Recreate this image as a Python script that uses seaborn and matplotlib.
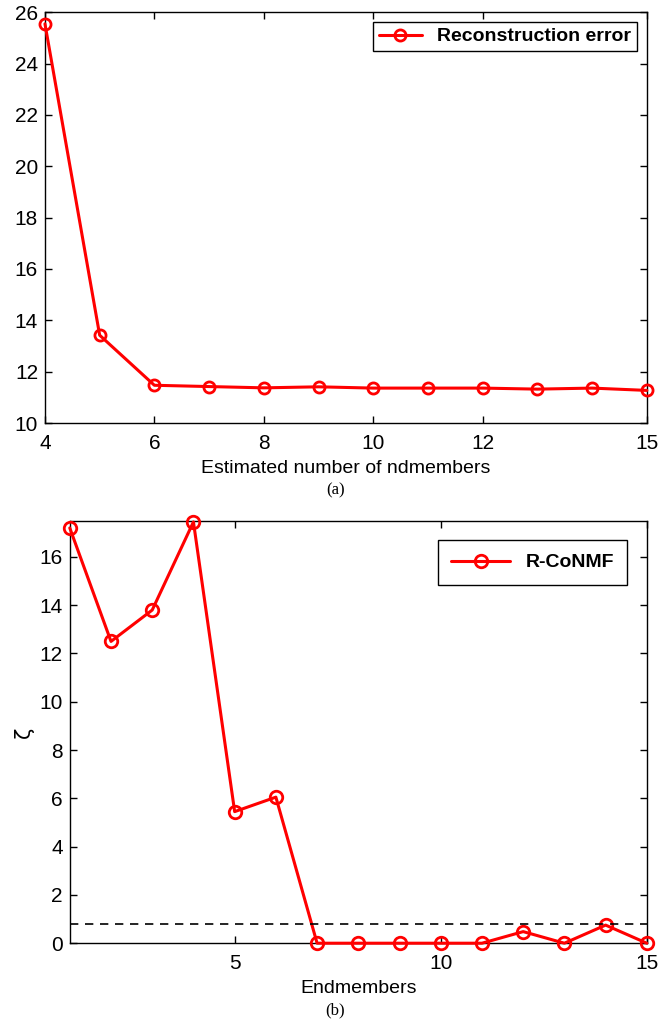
import matplotlib
matplotlib.use("Agg")
import matplotlib.pyplot as plt
import seaborn as sns
import pandas as pd
import numpy as np

# Data
top_x = [4, 5, 6, 7, 8, 9, 10, 11, 12, 13, 14, 15]
top_err = [25.55, 13.42, 11.47, 11.42, 11.37, 11.41, 11.36, 11.36, 11.36, 11.32, 11.36, 11.27]
top_xticks = [4, 6, 8, 10, 12, 15]
top_yticks = [10, 12, 14, 16, 18, 20, 22, 24, 26]

bot_x = list(range(1, 16))
bot_zeta = [17.2, 12.5, 13.8, 17.45, 5.45, 6.05, 0, 0, 0, 0, 0, 0.48, 0, 0.75, 0]
bot_xticks = [5, 10, 15]
bot_yticks = [0, 2, 4, 6, 8, 10, 12, 14, 16]
threshold = 0.8

sns.set_style("ticks")
plt.rcParams['font.family'] = ['Liberation Sans', 'DejaVu Sans']
plt.rcParams['xtick.direction'] = 'in'
plt.rcParams['ytick.direction'] = 'in'
plt.rcParams['text.color'] = 'black'
plt.rcParams['axes.labelcolor'] = 'black'
plt.rcParams['xtick.color'] = 'black'
plt.rcParams['ytick.color'] = 'black'
plt.rcParams['axes.edgecolor'] = 'black'

fig = plt.figure(figsize=(6.71, 10.23), dpi=100)
ax1 = fig.add_axes([0.067, 0.5865, 0.897, 0.4015])
ax2 = fig.add_axes([0.104, 0.078, 0.86, 0.413])

df1 = pd.DataFrame({"x": top_x, "y": top_err})
sns.lineplot(data=df1, x="x", y="y", ax=ax1, color="red", lw=2.2, marker="o",
             markersize=8, markerfacecolor="none", markeredgecolor="red",
             markeredgewidth=2, label="Reconstruction error", clip_on=False)
ax1.set_xlim(4, 15)
ax1.set_ylim(10, 26)
ax1.set_xticks(top_xticks)
ax1.set_yticks(top_yticks)
ax1.set_xlabel("Estimated number of ndmembers", fontsize=14, labelpad=5)
ax1.set_ylabel("")
leg1 = ax1.legend(loc="upper right", fancybox=False, edgecolor="black", framealpha=1,
                  prop={"weight": "bold", "size": 14}, handlelength=2.2,
                  borderpad=0.3, borderaxespad=0.5)
leg1.get_frame().set_linewidth(1.0)

df2 = pd.DataFrame({"x": bot_x, "y": bot_zeta})
sns.lineplot(data=df2, x="x", y="y", ax=ax2, color="red", lw=2.2, marker="o",
             markersize=9, markerfacecolor="none", markeredgecolor="red",
             markeredgewidth=2, label="R-CoNMF", clip_on=False)
ax2.axhline(threshold, color="black", ls=(0, (5, 4)), lw=1.2)
ax2.set_xlim(1, 15)
ax2.set_ylim(0, 17.5)
ax2.set_xticks(bot_xticks)
ax2.set_yticks(bot_yticks)
ax2.set_xlabel("Endmembers", fontsize=14, labelpad=5)
ax2.set_ylabel("ζ", fontsize=15, family=['DejaVu Sans'])
leg2 = ax2.legend(loc="upper right", fancybox=False, edgecolor="black", framealpha=1,
                  prop={"weight": "bold", "size": 14}, handlelength=3,
                  borderpad=0.7, borderaxespad=1.0)
leg2.get_frame().set_linewidth(1.0)

for ax in (ax1, ax2):
    ax.tick_params(top=True, right=True, labelsize=15, length=5, width=1)
    ax.tick_params(axis="x", pad=8)
    ax.tick_params(axis="y", pad=5)
    for s in ax.spines.values():
        s.set_linewidth(1.0)
        s.set_visible(True)
        s.set_zorder(0.5)

fig.text(0.5, 1 - 490 / 1023, "(a)", ha="center", va="center", fontsize=12,
         family=['Liberation Serif'])
fig.text(0.5, 1 - 1010 / 1023, "(b)", ha="center", va="center", fontsize=12,
         family=['Liberation Serif'])

fig.savefig("out.png", dpi=100)
